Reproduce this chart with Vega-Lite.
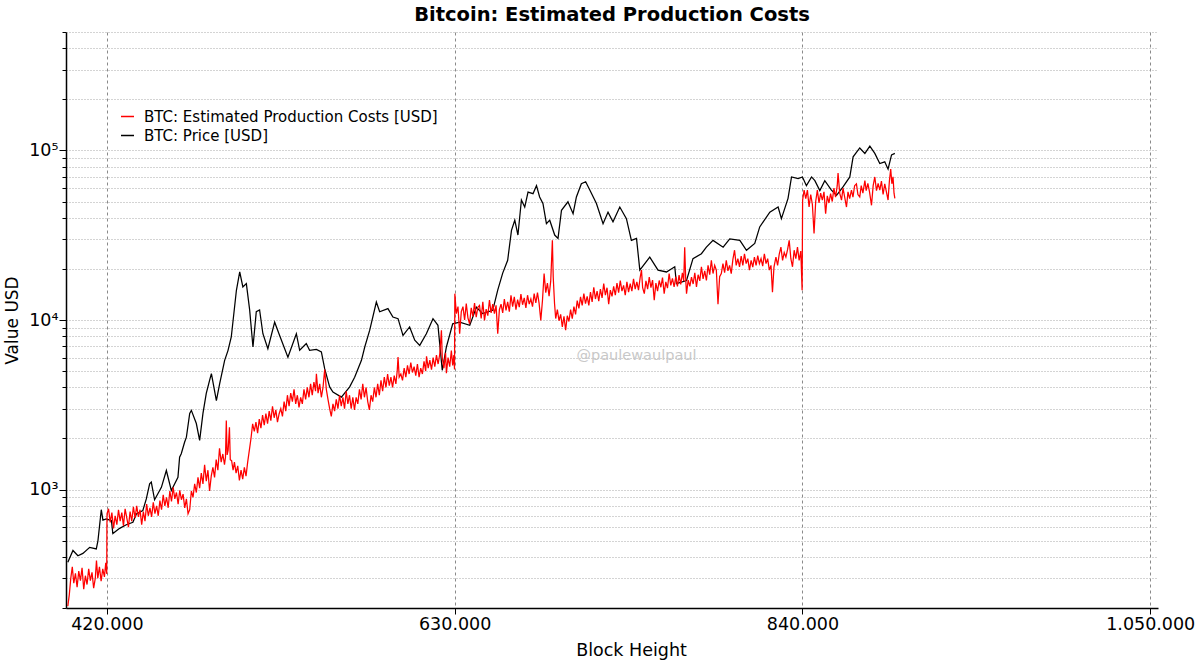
{
  "$schema": "https://vega.github.io/schema/vega-lite/v6.json",
  "width": 1092,
  "height": 576,
  "autosize": "none",
  "padding": {"left": 66, "top": 32, "right": 42, "bottom": 58},
  "background": "white",
  "title": {
    "text": "Bitcoin: Estimated Production Costs",
    "font": "DejaVu Sans",
    "fontSize": 19.5,
    "fontWeight": "bold",
    "color": "black",
    "offset": 6
  },
  "config": {
    "view": {"stroke": null},
    "font": "DejaVu Sans"
  },
  "datasets": {
    "price": [
      {"b": 396400, "v": 372}, {"b": 399500, "v": 437}, {"b": 402500, "v": 407}, {"b": 405500, "v": 420},
      {"b": 409600, "v": 456}, {"b": 413600, "v": 446}, {"b": 414600, "v": 500}, {"b": 416600, "v": 760},
      {"b": 417600, "v": 660}, {"b": 419600, "v": 670}, {"b": 422700, "v": 656}, {"b": 423600, "v": 550},
      {"b": 427700, "v": 590}, {"b": 431700, "v": 620}, {"b": 435700, "v": 641}, {"b": 437800, "v": 718},
      {"b": 441700, "v": 752}, {"b": 443800, "v": 880}, {"b": 445800, "v": 1080}, {"b": 446800, "v": 1105},
      {"b": 448800, "v": 870}, {"b": 452900, "v": 1030}, {"b": 455900, "v": 1295}, {"b": 458900, "v": 987},
      {"b": 462900, "v": 1180}, {"b": 463900, "v": 1550}, {"b": 464900, "v": 1625}, {"b": 466900, "v": 1900},
      {"b": 468000, "v": 2036}, {"b": 470000, "v": 2810}, {"b": 471000, "v": 2929}, {"b": 474000, "v": 2450},
      {"b": 476000, "v": 1950}, {"b": 478000, "v": 2810}, {"b": 480000, "v": 3690}, {"b": 482000, "v": 4400},
      {"b": 483100, "v": 4822}, {"b": 486100, "v": 3350}, {"b": 488100, "v": 4211}, {"b": 491100, "v": 5780},
      {"b": 493100, "v": 6600}, {"b": 495100, "v": 7943}, {"b": 498200, "v": 14970}, {"b": 500200, "v": 19230},
      {"b": 502100, "v": 15660}, {"b": 504200, "v": 16380}, {"b": 506200, "v": 11450}, {"b": 508200, "v": 6930},
      {"b": 510200, "v": 11190}, {"b": 512200, "v": 11450}, {"b": 514200, "v": 8300}, {"b": 517200, "v": 6770},
      {"b": 521300, "v": 9710}, {"b": 524300, "v": 8110}, {"b": 529300, "v": 6040}, {"b": 534400, "v": 8300},
      {"b": 536400, "v": 6630}, {"b": 540400, "v": 7260}, {"b": 542400, "v": 6630}, {"b": 546500, "v": 6700},
      {"b": 549500, "v": 6480}, {"b": 551500, "v": 5160}, {"b": 554500, "v": 4030}, {"b": 556500, "v": 3760},
      {"b": 561600, "v": 3510}, {"b": 566600, "v": 4030}, {"b": 569600, "v": 4600}, {"b": 573700, "v": 5780},
      {"b": 575700, "v": 6930}, {"b": 578700, "v": 8710}, {"b": 582700, "v": 12760}, {"b": 584700, "v": 11190},
      {"b": 589700, "v": 11680}, {"b": 592700, "v": 10420}, {"b": 595800, "v": 10180}, {"b": 598800, "v": 8110},
      {"b": 602800, "v": 9100}, {"b": 605900, "v": 7600}, {"b": 608900, "v": 7080}, {"b": 612900, "v": 8300},
      {"b": 616900, "v": 10180}, {"b": 619900, "v": 9300}, {"b": 622500, "v": 5050}, {"b": 625000, "v": 6930},
      {"b": 628800, "v": 9500}, {"b": 633000, "v": 9700}, {"b": 639100, "v": 9300}, {"b": 643100, "v": 11900},
      {"b": 646900, "v": 10900}, {"b": 653000, "v": 11400}, {"b": 656000, "v": 15000}, {"b": 659000, "v": 18900},
      {"b": 662000, "v": 22500}, {"b": 664300, "v": 33800}, {"b": 666300, "v": 38800}, {"b": 668200, "v": 31700},
      {"b": 670300, "v": 51000}, {"b": 672300, "v": 46400}, {"b": 674300, "v": 56800}, {"b": 677300, "v": 55600},
      {"b": 679400, "v": 62000}, {"b": 681300, "v": 53200}, {"b": 683300, "v": 48700}, {"b": 685400, "v": 37000},
      {"b": 687400, "v": 38800}, {"b": 690400, "v": 31700}, {"b": 692400, "v": 30300}, {"b": 694500, "v": 44400},
      {"b": 698400, "v": 49800}, {"b": 701500, "v": 42400}, {"b": 703500, "v": 53200}, {"b": 706500, "v": 63600},
      {"b": 709100, "v": 65400}, {"b": 711600, "v": 58400}, {"b": 715600, "v": 48700}, {"b": 719600, "v": 37000},
      {"b": 722600, "v": 43300}, {"b": 725600, "v": 38000}, {"b": 729700, "v": 46400}, {"b": 733700, "v": 39600},
      {"b": 736700, "v": 29500}, {"b": 739800, "v": 30300}, {"b": 741800, "v": 19700}, {"b": 747800, "v": 23500},
      {"b": 752800, "v": 19700}, {"b": 757900, "v": 19200}, {"b": 762900, "v": 20600}, {"b": 763900, "v": 16400},
      {"b": 770000, "v": 17100}, {"b": 773900, "v": 23000}, {"b": 779000, "v": 24600}, {"b": 782000, "v": 26900},
      {"b": 786000, "v": 29500}, {"b": 792100, "v": 26900}, {"b": 796100, "v": 30100}, {"b": 802200, "v": 29500},
      {"b": 806200, "v": 25800}, {"b": 811200, "v": 28300}, {"b": 814200, "v": 35400}, {"b": 820300, "v": 43300},
      {"b": 825300, "v": 46400}, {"b": 827300, "v": 39600}, {"b": 831300, "v": 52200}, {"b": 833400, "v": 69800},
      {"b": 837400, "v": 68300}, {"b": 840000, "v": 69800}, {"b": 842400, "v": 62000}, {"b": 845500, "v": 69800},
      {"b": 847500, "v": 66400}, {"b": 850500, "v": 58000}, {"b": 853500, "v": 66400}, {"b": 857500, "v": 58400},
      {"b": 860600, "v": 54400}, {"b": 864500, "v": 61000}, {"b": 868600, "v": 69800}, {"b": 870600, "v": 91700},
      {"b": 874600, "v": 103500}, {"b": 877700, "v": 96100}, {"b": 880700, "v": 106000}, {"b": 883700, "v": 96100},
      {"b": 886700, "v": 83700}, {"b": 889700, "v": 85700}, {"b": 891700, "v": 77600}, {"b": 893800, "v": 94200},
      {"b": 895800, "v": 96100}
    ],
    "cost": [
      {"b": 396400, "v": 205}, {"b": 397300, "v": 240}, {"b": 398200, "v": 300}, {"b": 399100, "v": 350},
      {"b": 400000, "v": 280}, {"b": 401000, "v": 320}, {"b": 402000, "v": 265}, {"b": 403000, "v": 330},
      {"b": 404000, "v": 290}, {"b": 405000, "v": 345}, {"b": 406000, "v": 258}, {"b": 407000, "v": 310},
      {"b": 408000, "v": 275}, {"b": 409000, "v": 340}, {"b": 410000, "v": 290}, {"b": 411000, "v": 325},
      {"b": 412000, "v": 262}, {"b": 413000, "v": 300}, {"b": 413700, "v": 381}, {"b": 414500, "v": 300},
      {"b": 415500, "v": 350}, {"b": 416500, "v": 288}, {"b": 417500, "v": 340}, {"b": 418500, "v": 305},
      {"b": 419300, "v": 370}, {"b": 419900, "v": 318}, {"b": 420000, "v": 600}, {"b": 420100, "v": 720},
      {"b": 421000, "v": 770}, {"b": 422000, "v": 640}, {"b": 423000, "v": 730}, {"b": 424000, "v": 590},
      {"b": 425000, "v": 700}, {"b": 426000, "v": 620}, {"b": 427000, "v": 760}, {"b": 428000, "v": 650},
      {"b": 429000, "v": 730}, {"b": 430000, "v": 610}, {"b": 431000, "v": 770}, {"b": 432000, "v": 680},
      {"b": 433000, "v": 600}, {"b": 434000, "v": 740}, {"b": 435000, "v": 650}, {"b": 436000, "v": 790},
      {"b": 437000, "v": 680}, {"b": 438000, "v": 800}, {"b": 439000, "v": 690}, {"b": 440000, "v": 760},
      {"b": 441000, "v": 620}, {"b": 442000, "v": 740}, {"b": 443000, "v": 650}, {"b": 444000, "v": 820},
      {"b": 445000, "v": 700}, {"b": 446000, "v": 780}, {"b": 447000, "v": 690}, {"b": 448000, "v": 840},
      {"b": 449000, "v": 720}, {"b": 450000, "v": 800}, {"b": 451000, "v": 700}, {"b": 452000, "v": 860},
      {"b": 453000, "v": 760}, {"b": 454000, "v": 930}, {"b": 455000, "v": 800}, {"b": 456000, "v": 900},
      {"b": 457000, "v": 780}, {"b": 458000, "v": 980}, {"b": 459000, "v": 850}, {"b": 460000, "v": 1030},
      {"b": 461000, "v": 880}, {"b": 462000, "v": 960}, {"b": 463000, "v": 820}, {"b": 464000, "v": 990},
      {"b": 465000, "v": 870}, {"b": 466000, "v": 940}, {"b": 467000, "v": 780}, {"b": 468000, "v": 880},
      {"b": 469000, "v": 720}, {"b": 470000, "v": 760}, {"b": 471000, "v": 980}, {"b": 472000, "v": 900},
      {"b": 473000, "v": 1080}, {"b": 474000, "v": 960}, {"b": 475000, "v": 1180}, {"b": 476000, "v": 1020},
      {"b": 477000, "v": 1250}, {"b": 478000, "v": 1080}, {"b": 479000, "v": 1400}, {"b": 480000, "v": 1120},
      {"b": 481000, "v": 1300}, {"b": 482000, "v": 980}, {"b": 483000, "v": 1200}, {"b": 484000, "v": 1350},
      {"b": 485000, "v": 1180}, {"b": 486000, "v": 1500}, {"b": 487000, "v": 1300}, {"b": 488000, "v": 1750},
      {"b": 489000, "v": 1450}, {"b": 490000, "v": 1620}, {"b": 491000, "v": 1400}, {"b": 491600, "v": 1550},
      {"b": 492100, "v": 2556}, {"b": 492600, "v": 1600}, {"b": 493200, "v": 1700}, {"b": 494000, "v": 2330},
      {"b": 494500, "v": 1500}, {"b": 495300, "v": 1480}, {"b": 496200, "v": 1300}, {"b": 497000, "v": 1450},
      {"b": 498000, "v": 1250}, {"b": 499000, "v": 1380}, {"b": 500000, "v": 1130}, {"b": 501000, "v": 1300},
      {"b": 502000, "v": 1150}, {"b": 503000, "v": 1350}, {"b": 504000, "v": 1200}, {"b": 505000, "v": 1450},
      {"b": 506000, "v": 1700}, {"b": 507000, "v": 2000}, {"b": 508000, "v": 2440}, {"b": 509000, "v": 2200},
      {"b": 510000, "v": 2500}, {"b": 511000, "v": 2150}, {"b": 512000, "v": 2600}, {"b": 513000, "v": 2300},
      {"b": 514000, "v": 2750}, {"b": 515000, "v": 2400}, {"b": 516000, "v": 2800}, {"b": 517000, "v": 2450},
      {"b": 518000, "v": 2900}, {"b": 519000, "v": 2550}, {"b": 520000, "v": 3100}, {"b": 521000, "v": 2650},
      {"b": 522000, "v": 2950}, {"b": 523000, "v": 2500}, {"b": 524000, "v": 2800}, {"b": 525000, "v": 3000},
      {"b": 526000, "v": 2700}, {"b": 527000, "v": 3300}, {"b": 528000, "v": 2900}, {"b": 529000, "v": 3600},
      {"b": 530000, "v": 3100}, {"b": 531000, "v": 3700}, {"b": 532000, "v": 3300}, {"b": 533000, "v": 3900},
      {"b": 534000, "v": 3200}, {"b": 535000, "v": 3600}, {"b": 536000, "v": 3050}, {"b": 537000, "v": 3500},
      {"b": 538000, "v": 3200}, {"b": 539000, "v": 3900}, {"b": 540000, "v": 3400}, {"b": 541000, "v": 4000},
      {"b": 542000, "v": 3500}, {"b": 543000, "v": 4200}, {"b": 544000, "v": 3600}, {"b": 545000, "v": 4300},
      {"b": 546000, "v": 3800}, {"b": 546500, "v": 4822}, {"b": 547500, "v": 3700}, {"b": 548500, "v": 4200},
      {"b": 549500, "v": 3500}, {"b": 550500, "v": 4000}, {"b": 551500, "v": 5100}, {"b": 552500, "v": 3900},
      {"b": 553500, "v": 3400}, {"b": 554500, "v": 3000}, {"b": 555500, "v": 2700}, {"b": 556500, "v": 3200},
      {"b": 557500, "v": 2900}, {"b": 558500, "v": 3400}, {"b": 559500, "v": 3000}, {"b": 560500, "v": 3600},
      {"b": 561500, "v": 3100}, {"b": 562500, "v": 3500}, {"b": 563500, "v": 3000}, {"b": 564500, "v": 3800},
      {"b": 565500, "v": 3200}, {"b": 566500, "v": 3600}, {"b": 567500, "v": 3000}, {"b": 568500, "v": 3500},
      {"b": 569500, "v": 2950}, {"b": 570500, "v": 3500}, {"b": 571500, "v": 3200}, {"b": 572500, "v": 3900},
      {"b": 573500, "v": 3400}, {"b": 574500, "v": 4200}, {"b": 575500, "v": 3500}, {"b": 576500, "v": 4000},
      {"b": 577500, "v": 3300}, {"b": 578500, "v": 2950}, {"b": 579500, "v": 3600}, {"b": 580500, "v": 3300},
      {"b": 581500, "v": 4000}, {"b": 582500, "v": 3500}, {"b": 583500, "v": 4200}, {"b": 584500, "v": 3600},
      {"b": 585500, "v": 4400}, {"b": 586500, "v": 3800}, {"b": 587500, "v": 4600}, {"b": 588500, "v": 4000},
      {"b": 589500, "v": 4800}, {"b": 590500, "v": 4100}, {"b": 591500, "v": 4600}, {"b": 592500, "v": 4000},
      {"b": 593500, "v": 4700}, {"b": 594500, "v": 4200}, {"b": 595300, "v": 5000}, {"b": 595800, "v": 6040},
      {"b": 596500, "v": 4600}, {"b": 597500, "v": 4800}, {"b": 598500, "v": 4400}, {"b": 599500, "v": 5200},
      {"b": 600500, "v": 4600}, {"b": 601500, "v": 5400}, {"b": 602500, "v": 4800}, {"b": 603500, "v": 5600},
      {"b": 604500, "v": 4900}, {"b": 605500, "v": 5300}, {"b": 606500, "v": 4700}, {"b": 607500, "v": 5500},
      {"b": 608500, "v": 4600}, {"b": 609500, "v": 5200}, {"b": 610500, "v": 4800}, {"b": 611500, "v": 5700},
      {"b": 612500, "v": 5000}, {"b": 613000, "v": 6100}, {"b": 614000, "v": 5200}, {"b": 615000, "v": 5800},
      {"b": 616000, "v": 5100}, {"b": 617000, "v": 6000}, {"b": 618000, "v": 5300}, {"b": 619000, "v": 6200},
      {"b": 620000, "v": 5500}, {"b": 621000, "v": 6300}, {"b": 622000, "v": 8700}, {"b": 622500, "v": 6000},
      {"b": 623500, "v": 5200}, {"b": 624500, "v": 6400}, {"b": 625000, "v": 4850}, {"b": 626000, "v": 6000},
      {"b": 627000, "v": 5300}, {"b": 628000, "v": 6600}, {"b": 628800, "v": 5400}, {"b": 629500, "v": 6200},
      {"b": 629900, "v": 5100}, {"b": 630100, "v": 14300}, {"b": 631000, "v": 10900}, {"b": 632000, "v": 12000},
      {"b": 633000, "v": 8300}, {"b": 634000, "v": 11200}, {"b": 635000, "v": 12000}, {"b": 636000, "v": 10000},
      {"b": 637000, "v": 12500}, {"b": 638000, "v": 10300}, {"b": 639000, "v": 9500}, {"b": 640000, "v": 11800},
      {"b": 641000, "v": 10500}, {"b": 642000, "v": 12600}, {"b": 643000, "v": 10400}, {"b": 644000, "v": 11900},
      {"b": 645000, "v": 12200}, {"b": 646000, "v": 10200}, {"b": 647000, "v": 12800}, {"b": 648000, "v": 9950},
      {"b": 649000, "v": 11600}, {"b": 650000, "v": 10600}, {"b": 651000, "v": 13100}, {"b": 652000, "v": 11000},
      {"b": 653000, "v": 12400}, {"b": 654000, "v": 10900}, {"b": 655000, "v": 12200}, {"b": 656000, "v": 8300},
      {"b": 657000, "v": 11500}, {"b": 658000, "v": 12400}, {"b": 659000, "v": 11000}, {"b": 660000, "v": 13300},
      {"b": 661000, "v": 11400}, {"b": 662000, "v": 12800}, {"b": 663000, "v": 11200}, {"b": 664000, "v": 14000},
      {"b": 665000, "v": 12000}, {"b": 666000, "v": 13700}, {"b": 667000, "v": 11500}, {"b": 668000, "v": 13200},
      {"b": 669000, "v": 11900}, {"b": 670000, "v": 14200}, {"b": 671000, "v": 12300}, {"b": 672000, "v": 13500},
      {"b": 673000, "v": 11800}, {"b": 674000, "v": 14000}, {"b": 675000, "v": 12400}, {"b": 676000, "v": 13300},
      {"b": 677000, "v": 12000}, {"b": 678000, "v": 14300}, {"b": 679000, "v": 12600}, {"b": 680000, "v": 14500},
      {"b": 681000, "v": 12500}, {"b": 682000, "v": 9950}, {"b": 683000, "v": 13000}, {"b": 684000, "v": 18800},
      {"b": 685000, "v": 14500}, {"b": 686000, "v": 16500}, {"b": 687000, "v": 13800}, {"b": 688000, "v": 17000},
      {"b": 689000, "v": 29500}, {"b": 689500, "v": 18000}, {"b": 690300, "v": 12500}, {"b": 691000, "v": 10200},
      {"b": 692000, "v": 11500}, {"b": 693000, "v": 9900}, {"b": 694000, "v": 10800}, {"b": 695000, "v": 9100},
      {"b": 696000, "v": 10500}, {"b": 697000, "v": 8700}, {"b": 698000, "v": 10600}, {"b": 699000, "v": 9800},
      {"b": 700000, "v": 11500}, {"b": 701000, "v": 10200}, {"b": 702000, "v": 12000}, {"b": 703000, "v": 10800},
      {"b": 704000, "v": 13000}, {"b": 705000, "v": 11700}, {"b": 706000, "v": 13700}, {"b": 707000, "v": 12200},
      {"b": 708000, "v": 14300}, {"b": 709000, "v": 12500}, {"b": 710000, "v": 13800}, {"b": 711000, "v": 12200},
      {"b": 712000, "v": 14600}, {"b": 713000, "v": 12800}, {"b": 714000, "v": 15600}, {"b": 715000, "v": 13300},
      {"b": 716000, "v": 14800}, {"b": 717000, "v": 12900}, {"b": 718000, "v": 15200}, {"b": 719000, "v": 13500},
      {"b": 720000, "v": 16400}, {"b": 721000, "v": 14000}, {"b": 722000, "v": 15500}, {"b": 723000, "v": 12400},
      {"b": 724000, "v": 15000}, {"b": 725000, "v": 13800}, {"b": 726000, "v": 15800}, {"b": 727000, "v": 14000},
      {"b": 728000, "v": 16500}, {"b": 729000, "v": 14500}, {"b": 730000, "v": 17100}, {"b": 731000, "v": 14800},
      {"b": 732000, "v": 16000}, {"b": 733000, "v": 14000}, {"b": 734000, "v": 16800}, {"b": 735000, "v": 14600},
      {"b": 736000, "v": 16400}, {"b": 737000, "v": 14800}, {"b": 738000, "v": 17500}, {"b": 739000, "v": 15200},
      {"b": 740000, "v": 16800}, {"b": 741000, "v": 15000}, {"b": 742000, "v": 17800}, {"b": 742800, "v": 19700},
      {"b": 743500, "v": 15500}, {"b": 744500, "v": 14300}, {"b": 745500, "v": 17000}, {"b": 746500, "v": 15200},
      {"b": 747500, "v": 17900}, {"b": 748500, "v": 15500}, {"b": 749500, "v": 17200}, {"b": 750500, "v": 13100},
      {"b": 751500, "v": 16500}, {"b": 752500, "v": 14800}, {"b": 753500, "v": 17100}, {"b": 754500, "v": 15600},
      {"b": 755500, "v": 17800}, {"b": 756500, "v": 14300}, {"b": 757500, "v": 16800}, {"b": 758500, "v": 15400},
      {"b": 759500, "v": 18800}, {"b": 760500, "v": 16000}, {"b": 761500, "v": 17600}, {"b": 762500, "v": 15660},
      {"b": 763500, "v": 18000}, {"b": 764500, "v": 15800}, {"b": 765500, "v": 18400}, {"b": 766500, "v": 16200},
      {"b": 767500, "v": 19000}, {"b": 768300, "v": 17000}, {"b": 768900, "v": 26900}, {"b": 769500, "v": 17500},
      {"b": 770000, "v": 14300}, {"b": 771000, "v": 17200}, {"b": 772000, "v": 15800}, {"b": 773000, "v": 17900},
      {"b": 774000, "v": 16300}, {"b": 775000, "v": 19000}, {"b": 776000, "v": 15660}, {"b": 777000, "v": 18500},
      {"b": 778000, "v": 17000}, {"b": 779000, "v": 20600}, {"b": 780000, "v": 17500}, {"b": 781000, "v": 19500},
      {"b": 782000, "v": 17100}, {"b": 783000, "v": 21000}, {"b": 784000, "v": 18500}, {"b": 785000, "v": 22500},
      {"b": 786000, "v": 18800}, {"b": 787000, "v": 21000}, {"b": 788000, "v": 19700}, {"b": 789000, "v": 12400},
      {"b": 790000, "v": 18000}, {"b": 791000, "v": 18800}, {"b": 792000, "v": 21500}, {"b": 793000, "v": 19000},
      {"b": 794000, "v": 22500}, {"b": 795000, "v": 19500}, {"b": 796000, "v": 21000}, {"b": 797000, "v": 18780},
      {"b": 798000, "v": 22800}, {"b": 799000, "v": 25800}, {"b": 800000, "v": 21000}, {"b": 801000, "v": 23000},
      {"b": 802000, "v": 20600}, {"b": 803000, "v": 23800}, {"b": 804000, "v": 21000}, {"b": 805000, "v": 24600},
      {"b": 806000, "v": 21500}, {"b": 807000, "v": 23000}, {"b": 808000, "v": 19700}, {"b": 809000, "v": 22500},
      {"b": 810000, "v": 20500}, {"b": 811000, "v": 23500}, {"b": 812000, "v": 21000}, {"b": 813000, "v": 24000},
      {"b": 814000, "v": 21500}, {"b": 815000, "v": 23000}, {"b": 816000, "v": 20800}, {"b": 817000, "v": 24600},
      {"b": 818000, "v": 21500}, {"b": 819000, "v": 23000}, {"b": 820000, "v": 19700}, {"b": 821000, "v": 21000},
      {"b": 821900, "v": 14600}, {"b": 822800, "v": 20500}, {"b": 824000, "v": 23500}, {"b": 825000, "v": 21000},
      {"b": 826000, "v": 24500}, {"b": 827000, "v": 26900}, {"b": 828000, "v": 22500}, {"b": 829000, "v": 25000},
      {"b": 830000, "v": 23500}, {"b": 831000, "v": 26000}, {"b": 832000, "v": 29500}, {"b": 833000, "v": 23000},
      {"b": 834000, "v": 20600}, {"b": 835000, "v": 25800}, {"b": 836000, "v": 23000}, {"b": 837000, "v": 26900},
      {"b": 838000, "v": 22500}, {"b": 839000, "v": 25500}, {"b": 839800, "v": 15000}, {"b": 840100, "v": 51000},
      {"b": 841000, "v": 58400}, {"b": 842000, "v": 52000}, {"b": 843000, "v": 58400}, {"b": 844000, "v": 46400},
      {"b": 845000, "v": 55000}, {"b": 846000, "v": 48000}, {"b": 847000, "v": 32400}, {"b": 848000, "v": 50000},
      {"b": 849000, "v": 58400}, {"b": 850000, "v": 49000}, {"b": 851000, "v": 56000}, {"b": 852000, "v": 51000},
      {"b": 853000, "v": 57000}, {"b": 854000, "v": 42400}, {"b": 855000, "v": 54000}, {"b": 856000, "v": 49000},
      {"b": 857000, "v": 55600}, {"b": 858000, "v": 50000}, {"b": 859000, "v": 60000}, {"b": 860000, "v": 53000},
      {"b": 861000, "v": 62000}, {"b": 861500, "v": 73500}, {"b": 862500, "v": 56000}, {"b": 863600, "v": 51000},
      {"b": 864500, "v": 60000}, {"b": 865500, "v": 53000}, {"b": 866600, "v": 46400}, {"b": 867500, "v": 57000},
      {"b": 868500, "v": 52000}, {"b": 869600, "v": 58400}, {"b": 870500, "v": 53000}, {"b": 871500, "v": 62000},
      {"b": 872600, "v": 63600}, {"b": 873500, "v": 55000}, {"b": 874600, "v": 53200}, {"b": 875500, "v": 62000},
      {"b": 876500, "v": 56000}, {"b": 877700, "v": 66400}, {"b": 878500, "v": 58000}, {"b": 879500, "v": 64000},
      {"b": 880500, "v": 57000}, {"b": 881700, "v": 47500}, {"b": 882700, "v": 62000}, {"b": 883700, "v": 69800},
      {"b": 884700, "v": 58000}, {"b": 885700, "v": 64000}, {"b": 886700, "v": 58400}, {"b": 887700, "v": 66000},
      {"b": 888700, "v": 55000}, {"b": 889700, "v": 63600}, {"b": 890700, "v": 57000}, {"b": 891700, "v": 51000},
      {"b": 892500, "v": 66000}, {"b": 893300, "v": 77600}, {"b": 894000, "v": 63600}, {"b": 894700, "v": 70000},
      {"b": 895300, "v": 56000}, {"b": 895800, "v": 52200}
    ],
    "mark": [
      {"b": 739800, "v": 6100, "t": "@paulewaulpaul"}
    ]
  },
  "encoding": {
    "x": {
      "field": "b",
      "type": "quantitative",
      "title": "Block Height",
      "scale": {"domain": [395300, 1054700], "nice": false, "zero": false},
      "axis": {
        "values": [420000, 630000, 840000, 1050000],
        "labelExpr": "replace(replace(format(datum.value, ','), ',', '.'), ',', '.')",
        "labelFontSize": 17.5,
        "labelColor": "black",
        "labelPadding": 1,
        "labelFlush": false,
        "domainColor": "black",
        "domainWidth": 1.5,
        "tickColor": "black",
        "tickSize": 6,
        "tickWidth": 1,
        "grid": true,
        "gridColor": "#8a8a8a",
        "gridDash": [3, 3],
        "gridWidth": 1,
        "titleFontSize": 17.5,
        "titleFontWeight": "normal",
        "titleColor": "black",
        "titlePadding": 9,
        "titleX": 565
      }
    },
    "y": {
      "field": "v",
      "type": "quantitative",
      "title": "Value USD",
      "scale": {"type": "log", "domain": [200, 500000], "nice": false},
      "axis": {
        "values": [200, 300, 400, 500, 600, 700, 800, 900, 1000, 2000, 3000, 4000, 5000, 6000, 7000, 8000, 9000, 10000, 20000, 30000, 40000, 50000, 60000, 70000, 80000, 90000, 100000, 200000, 300000, 400000, 500000],
        "labelExpr": "datum.value == 1000 ? '10³' : datum.value == 10000 ? '10⁴' : datum.value == 100000 ? '10⁵' : ''",
        "labelFontSize": 17.5,
        "labelColor": "black",
        "labelPadding": 1,
        "domainColor": "black",
        "domainWidth": 1.5,
        "tickColor": "black",
        "tickWidth": 1,
        "tickSize": {"condition": {"test": "datum.value == 1000 || datum.value == 10000 || datum.value == 100000", "value": 7}, "value": 4},
        "grid": true,
        "gridColor": "#a8a8a8",
        "gridDash": [1, 2],
        "gridWidth": 1,
        "titleFontSize": 17,
        "titleFontWeight": "normal",
        "titleColor": "black",
        "titlePadding": 7
      }
    }
  },
  "layer": [
    {
      "data": {"name": "price"},
      "mark": {"type": "line", "strokeWidth": 1.25, "clip": true, "interpolate": "linear"},
      "encoding": {
        "color": {
          "datum": "BTC: Price [USD]",
          "type": "nominal",
          "scale": {"domain": ["BTC: Estimated Production Costs [USD]", "BTC: Price [USD]"], "range": ["#ff0000", "#000000"]},
          "legend": {
            "title": null,
            "orient": "none",
            "legendX": 54,
            "legendY": 77,
            "symbolType": "stroke",
            "symbolSize": 169,
            "symbolStrokeWidth": 1.5,
            "labelFontSize": 15,
            "labelColor": "black",
            "labelLimit": 0,
            "labelOffset": 9,
            "rowPadding": 3,
            "padding": 0
          }
        }
      }
    },
    {
      "data": {"name": "cost"},
      "mark": {"type": "line", "strokeWidth": 1.25, "clip": true, "interpolate": "linear"},
      "encoding": {
        "color": {"datum": "BTC: Estimated Production Costs [USD]", "type": "nominal"}
      }
    },
    {
      "data": {"name": "mark"},
      "mark": {"type": "text", "fontSize": 14.5, "color": "#c8c8c8", "align": "center", "baseline": "middle"},
      "encoding": {
        "text": {"field": "t", "type": "nominal"}
      }
    }
  ]
}
